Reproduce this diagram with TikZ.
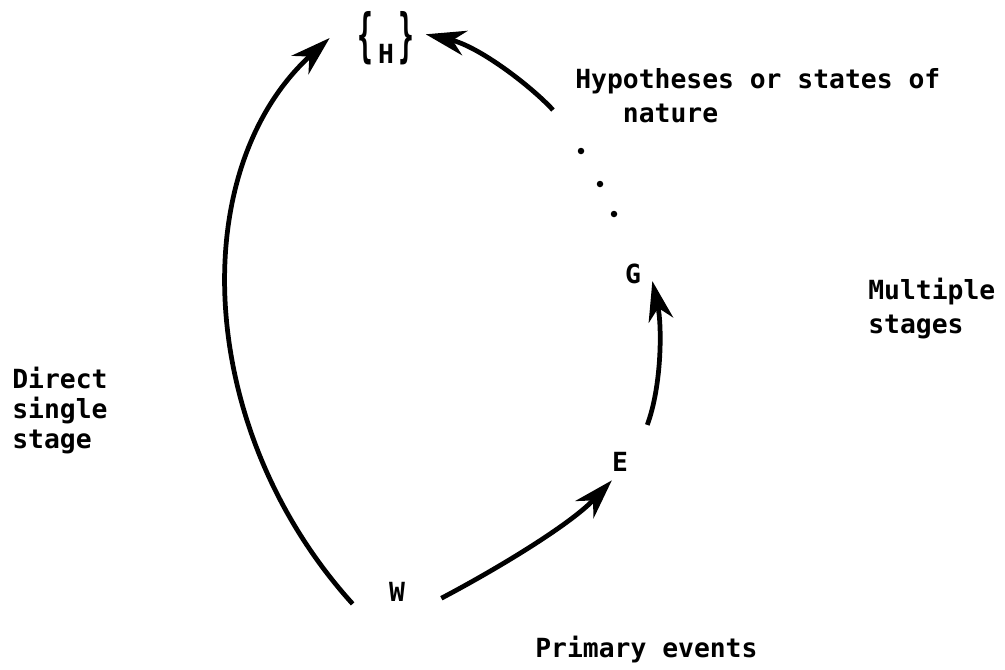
\documentclass[tikz,border=0pt]{standalone}
\usepackage{fontspec}
\usepackage{graphicx}
\setmonofont{DejaVu Sans Mono}
\usetikzlibrary{arrows.meta}
\begin{document}
\begin{tikzpicture}[x=0.02cm, y=-0.02cm,
    every node/.style={font=\ttfamily\bfseries\fontsize{15}{17}\selectfont, inner sep=0pt},
    wide/.style={font=\ttfamily\bfseries\fontsize{15}{19.3}\selectfont},
    flow/.style={line width=2.7pt, -{Stealth[length=0.8cm, width=0.5cm, inset=0.25cm]}}]
    \useasboundingbox (0,0) rectangle (1005,670);

    % Stages
    \node[minimum width=1.76cm, minimum height=0.48cm] (W) at (397,592) {W};
    \node[minimum width=0.8cm, minimum height=0.72cm] (E) at (620,462) {E};
    \node[minimum width=0.76cm, minimum height=0.48cm] (G) at (633,274) {G};
    \node[minimum width=2.24cm] (H) at (386,38)
        {\raisebox{0.33em}{\scalebox{1}[2.2]{\{}}\,H\,\raisebox{0.33em}{\scalebox{1}[2.2]{\}}}};
    \coordinate (dotsTop) at (553,110);

    % Dots between G and the top
    \foreach \p in {(581,151),(600,184),(614,214)}
        \fill \p circle (0.065cm);

    % Labels
    \node[anchor=base west, align=left, wide] (hyp) at (575,122)
        {Hypotheses or states of\\\phantom{Hyp}nature};
    \node[anchor=base west, align=left, wide] (multi) at (868,333) {Multiple\\stages};
    \node[anchor=base west, align=left] (direct) at (12,448) {Direct\\single\\stage};
    \node[anchor=base west] (prim) at (535,657) {Primary events};

    % Arrows
    \draw[flow] (W.195) .. controls (195,430) and (185,170) .. (H.west);
    \draw[flow] (W.-8) .. controls (495,570) and (570,525) .. (E.246);
    \draw[flow, shorten <=0.4cm] (E.north east) .. controls (662,385) and (662,325) .. (G.-20);
    \draw[flow, shorten >=-0.34cm] (dotsTop) .. controls (530,85) and (478,46) .. (H.east);
\end{tikzpicture}
\end{document}
